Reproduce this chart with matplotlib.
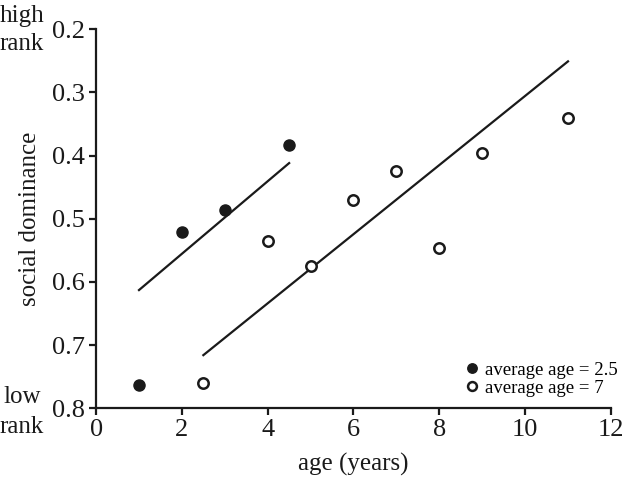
import matplotlib
matplotlib.use("Agg")
import matplotlib.pyplot as plt

plt.rcParams['font.family'] = ['Liberation Serif', 'DejaVu Serif']

# data
young_age = [1, 2, 3, 4.5]
young_dom = [0.763, 0.521, 0.487, 0.384]
old_age = [2.5, 4, 5, 6, 7, 8, 9, 11]
old_dom = [0.760, 0.535, 0.575, 0.471, 0.425, 0.547, 0.396, 0.341]

# fitted lines (endpoints)
young_fit_x = [1, 4.5]
young_fit_y = [0.613, 0.412]
old_fit_x = [2.5, 11]
old_fit_y = [0.716, 0.251]

xticks = [0, 2, 4, 6, 8, 10, 12]
yticks = [0.2, 0.3, 0.4, 0.5, 0.6, 0.7, 0.8]

fig = plt.figure(figsize=(6.24, 4.78), dpi=100)
ax = fig.add_axes([0.154, 0.146, 0.825, 0.793])

ax.plot(young_fit_x, young_fit_y, color='#1a1a1a', lw=1.6)
ax.plot(old_fit_x, old_fit_y, color='#1a1a1a', lw=1.6)

ax.plot(young_age, young_dom, 'o', color='#1a1a1a', ms=8, ls='none',
        label='average age = 2.5')
ax.plot(old_age, old_dom, 'o', mfc='white', mec='#1a1a1a', mew=1.8, ms=7.5,
        ls='none', label='average age = 7')

ax.set_xlim(0, 12)
ax.set_ylim(0.8, 0.2)
ax.set_xticks(xticks)
ax.set_yticks(yticks)
ax.set_xticklabels([str(t) for t in xticks])
ax.set_yticklabels([f"{t:.1f}" for t in yticks])

for s in ['top', 'right']:
    ax.spines[s].set_visible(False)
for s in ['left', 'bottom']:
    ax.spines[s].set_linewidth(1.6)
    ax.spines[s].set_color('#1a1a1a')
ax.tick_params(direction='out', length=5, width=1.6, labelsize=19,
               colors='#1a1a1a', pad=3)

ax.set_xlabel('age (years)', fontsize=18, color='#1a1a1a', labelpad=8)
ax.set_ylabel('social dominance', fontsize=18, color='#1a1a1a', labelpad=8)

side_kw = dict(fontsize=18, color='#1a1a1a', ha='center', va='baseline')
fig.text(0.035, 0.954, 'high', **side_kw)
fig.text(0.035, 0.895, 'rank', **side_kw)
fig.text(0.035, 0.157, 'low', **side_kw)
fig.text(0.035, 0.094, 'rank', **side_kw)

ax.legend(loc='lower right', bbox_to_anchor=(1.035, 0.0), frameon=False,
          fontsize=13.5, handletextpad=0.1, labelspacing=0.05,
          handlelength=1.2, borderaxespad=0.2, markerscale=0.85)

fig.savefig('out.png', dpi=100)
